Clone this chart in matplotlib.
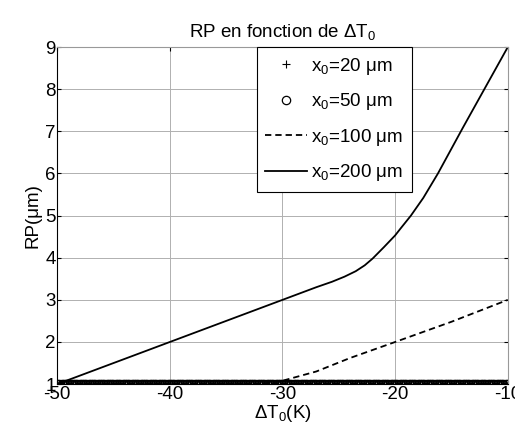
import numpy as np
import matplotlib.pyplot as plt

plt.rcParams['font.family'] = ['Liberation Sans', 'DejaVu Sans']
plt.rcParams['mathtext.fontset'] = 'custom'
plt.rcParams['mathtext.rm'] = 'Liberation Sans'
plt.rcParams['mathtext.it'] = 'Liberation Sans:italic'
plt.rcParams['axes.unicode_minus'] = False

# donnees
dT_markers = np.linspace(-50, -10, 201)
rp_20 = np.full(dT_markers.shape, 1.0)
rp_50 = np.full(dT_markers.shape, 1.0)

dT_100 = [-50, -40, -35, -32, -30, -27, -24, -20, -15, -10]
rp_100 = [1.0, 1.0, 1.0, 1.0, 1.08, 1.3, 1.62, 2.0, 2.48, 3.0]

dT_200 = [-50, -40, -30, -27, -25.6, -24.5, -23.5, -22.7, -22, -21, -20,
          -19.5, -18.6, -17.5, -16.2, -14, -12, -10]
rp_200 = [1.0, 2.0, 3.0, 3.3, 3.43, 3.55, 3.68, 3.82, 3.98, 4.25, 4.53,
          4.7, 5.0, 5.42, 6.0, 7.08, 8.04, 9.0]

fs = 13.5

fig = plt.figure(figsize=(5.15, 4.4), dpi=100)
ax = fig.add_axes([0.111, 0.127, 0.875, 0.766])

ax.plot(dT_markers, rp_20, '+', color='k', markersize=6, markeredgewidth=0.8,
        label=r'x$_0$=20 μm')
ax.plot(dT_markers, rp_50, 'o', color='k', markerfacecolor='none', markersize=6,
        markeredgewidth=0.9, label=r'x$_0$=50 μm')
ax.plot(dT_100, rp_100, '--', color='k', linewidth=1.3, dashes=(3.5, 2.2),
        label=r'x$_0$=100 μm')
ax.plot(dT_200, rp_200, '-', color='k', linewidth=1.3, label=r'x$_0$=200 μm')

ax.set_xlim(-50, -10)
ax.set_ylim(1, 9)
ax.set_xticks([-50, -40, -30, -20, -10])
ax.set_yticks(range(1, 10))
ax.grid(True, color='#b0b0b0', linewidth=0.7)
ax.tick_params(direction='in', length=3, labelsize=fs, right=True, top=True,
               color='k', pad=1)
for s in ['top', 'right']:
    ax.spines[s].set_color('#999999')
for s in ['left', 'bottom']:
    ax.spines[s].set_color('k')

ax.set_title(r'RP en fonction de ΔT$_0$', fontsize=fs, pad=7)
ax.set_xlabel(r'ΔT$_0$(K)', fontsize=fs, labelpad=0)
ax.set_ylabel('RP(μm)', fontsize=fs, labelpad=3)

leg = ax.legend(loc='upper left', bbox_to_anchor=(0.443, 1.0), borderaxespad=0,
                fontsize=fs, numpoints=1, handlelength=2.25, labelspacing=0.78,
                fancybox=False, framealpha=1, edgecolor='k', handletextpad=0.2,
                borderpad=0.45)
leg.get_frame().set_linewidth(0.8)

fig.savefig('out.png', dpi=100)
